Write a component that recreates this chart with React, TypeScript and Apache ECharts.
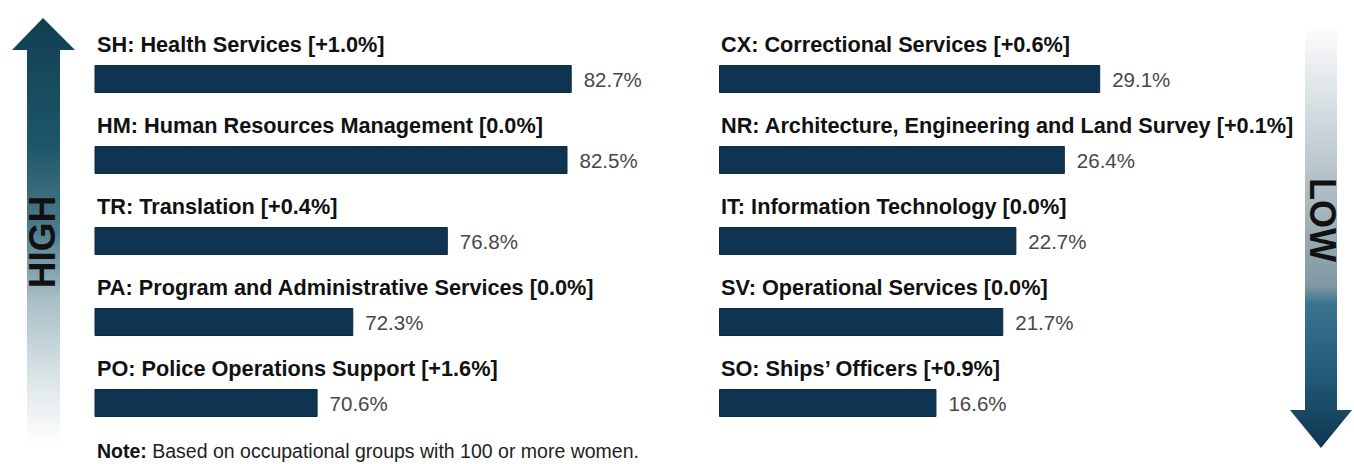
import React, { useEffect, useRef } from "react";
import * as echarts from "echarts";

const leftCategories = [
  "SH: Health Services [+1.0%]",
  "HM: Human Resources Management [0.0%]",
  "TR: Translation [+0.4%]",
  "PA: Program and Administrative Services [0.0%]",
  "PO: Police Operations Support [+1.6%]",
];
const leftValues = [82.7, 82.5, 76.8, 72.3, 70.6];

const rightCategories = [
  "CX: Correctional Services [+0.6%]",
  "NR: Architecture, Engineering and Land Survey [+0.1%]",
  "IT: Information Technology [0.0%]",
  "SV: Operational Services [0.0%]",
  "SO: Ships\u2019 Officers [+0.9%]",
];
const rightValues = [29.1, 26.4, 22.7, 21.7, 16.6];

const noteText = "Based on occupational groups with 100 or more women.";

const FONT = "'Liberation Sans', Arial, sans-serif";
const BAR = "#0e3452";

export default function App() {
  const ref = useRef<HTMLDivElement>(null);
  useEffect(() => {
    document.body.style.margin = "0";
    const chart = echarts.init(ref.current!, null, { renderer: "svg" });
    const valueLabel = {
      show: true,
      position: "right",
      distance: 12,
      color: "#474747",
      fontSize: 20.5,
      fontFamily: FONT,
      formatter: (p: any) => Number(p.value).toFixed(1) + "%",
    };
    const titleLabel = {
      show: true,
      position: [2, -21],
      verticalAlign: "middle",
      align: "left",
      color: "#111",
      fontSize: 21.7,
      fontWeight: "bold",
      fontFamily: FONT,
      formatter: (p: any) => p.name,
    };
    const makeSeries = (idx: number, values: number[]) => [
      {
        type: "bar",
        xAxisIndex: idx,
        yAxisIndex: idx,
        data: values,
        barWidth: 28,
        barGap: "-100%",
        itemStyle: { color: BAR, borderColor: "#0a2a40", borderWidth: 1 },
        label: valueLabel,
        silent: true,
      },
      {
        type: "bar",
        xAxisIndex: idx,
        yAxisIndex: idx,
        data: values,
        barWidth: 28,
        barGap: "-100%",
        itemStyle: { color: "rgba(0,0,0,0)" },
        label: titleLabel,
        silent: true,
      },
    ];
    chart.setOption({
      animation: false,
      textStyle: { fontFamily: FONT },
      grid: [
        { left: 95, top: 38.5, width: 525, height: 405 },
        { left: 719, top: 38.5, width: 524, height: 405 },
      ],
      xAxis: [
        { type: "value", gridIndex: 0, min: 60, max: 85, show: false, splitLine: { show: false } },
        { type: "value", gridIndex: 1, min: 0, max: 40, show: false, splitLine: { show: false } },
      ],
      yAxis: [
        { type: "category", gridIndex: 0, data: leftCategories, inverse: true, show: false },
        { type: "category", gridIndex: 1, data: rightCategories, inverse: true, show: false },
      ],
      series: [...makeSeries(0, leftValues), ...makeSeries(1, rightValues)],
      graphic: [
        {
          type: "polygon",
          shape: {
            points: [
              [12, 50], [43, 18], [75, 50], [60, 50], [60, 445], [27, 445], [27, 50],
            ],
          },
          style: {
            fill: {
              type: "linear", x: 0, y: 0, x2: 0, y2: 1,
              colorStops: [
                { offset: 0, color: "#113f52" },
                { offset: 0.3, color: "#1d5669" },
                { offset: 0.5, color: "#4f7d8d" },
                { offset: 0.66, color: "#a8bfc6" },
                { offset: 0.85, color: "#dde5e8" },
                { offset: 1, color: "#ffffff" },
              ],
            },
          },
          silent: true,
        },
        {
          type: "polygon",
          shape: {
            points: [
              [1305, 22], [1337, 22], [1337, 410], [1352, 410], [1321, 448], [1290, 410], [1305, 410],
            ],
          },
          style: {
            fill: {
              type: "linear", x: 0, y: 0, x2: 0, y2: 1,
              colorStops: [
                { offset: 0, color: "#ffffff" },
                { offset: 0.2, color: "#d6dee2" },
                { offset: 0.45, color: "#a3b4bb" },
                { offset: 0.62, color: "#7f98a2" },
                { offset: 0.66, color: "#3a7590" },
                { offset: 0.85, color: "#1f5673" },
                { offset: 1, color: "#0e3650" },
              ],
            },
          },
          silent: true,
        },
        {
          type: "text",
          x: 42,
          y: 242,
          rotation: Math.PI / 2,
          style: {
            text: "HIGH",
            fontSize: 37,
            fontWeight: "bold",
            fontFamily: FONT,
            fill: "#111",
            align: "center",
            verticalAlign: "middle",
          },
          silent: true,
        },
        {
          type: "text",
          x: 1322,
          y: 220,
          rotation: -Math.PI / 2,
          style: {
            text: "LOW",
            fontSize: 36,
            fontWeight: "bold",
            fontFamily: FONT,
            fill: "#111",
            align: "center",
            verticalAlign: "middle",
          },
          silent: true,
        },
        {
          type: "text",
          x: 97,
          y: 451,
          style: {
            text: "{b|Note:} " + noteText,
            rich: { b: { fontWeight: "bold", fontSize: 19.5, fontFamily: FONT, fill: "#111" } },
            fontSize: 19.5,
            fontFamily: FONT,
            fill: "#222",
            align: "left",
            verticalAlign: "middle",
          },
          silent: true,
        },
      ],
    });
    return () => chart.dispose();
  }, []);
  return <div ref={ref} style={{ width: 1354, height: 464 }} />;
}
